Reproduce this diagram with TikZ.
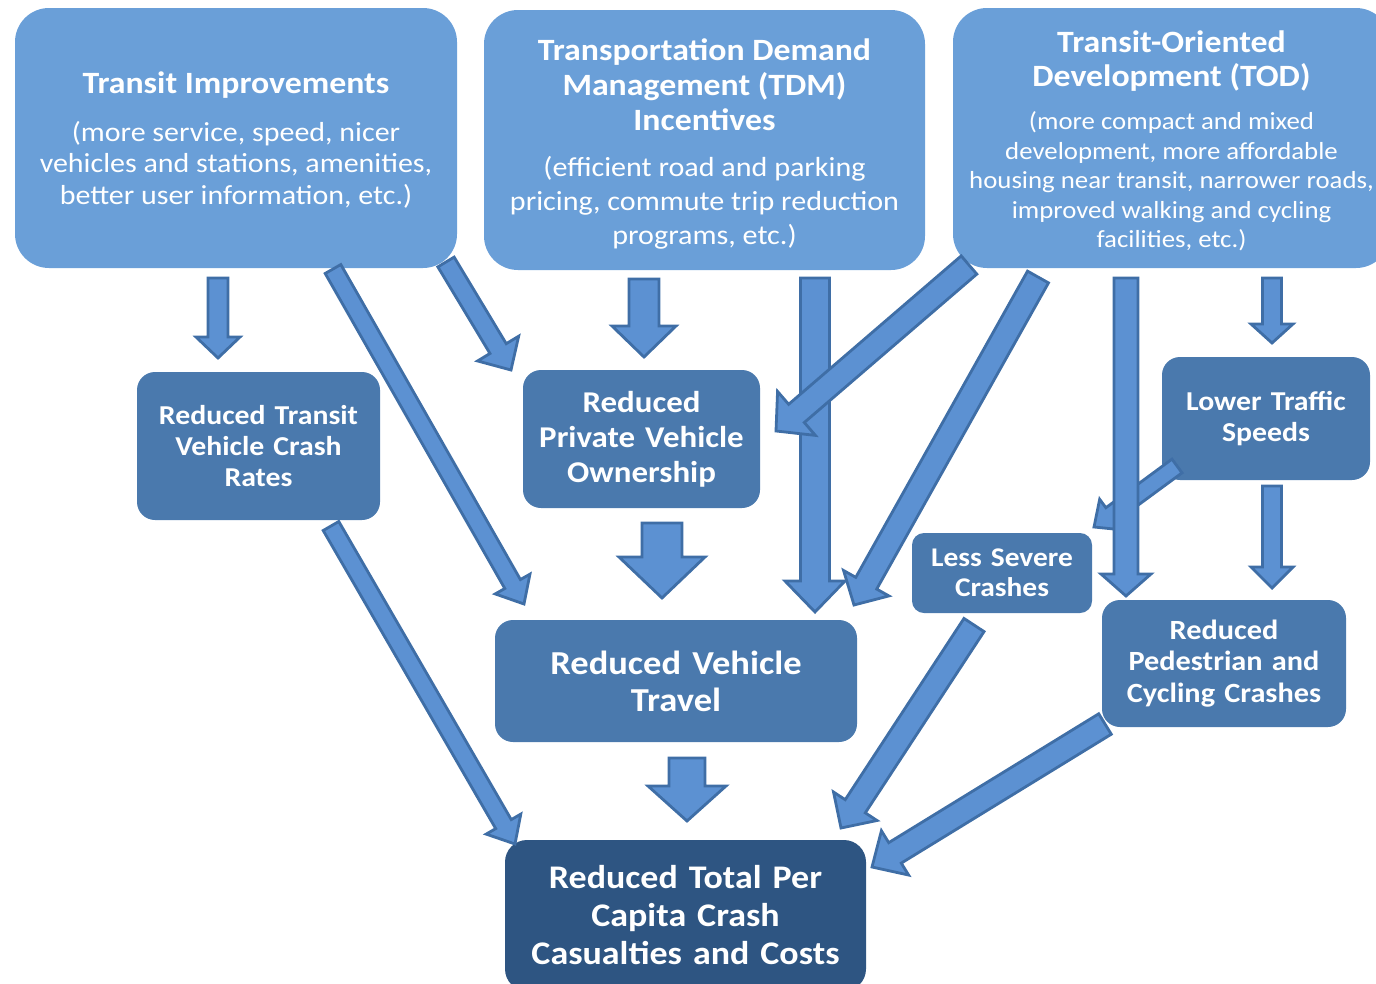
\documentclass[tikz,border=0pt]{standalone}
\usepackage{fontspec}
\setmainfont{Carlito}[FakeStretch=1.09]
\usetikzlibrary{calc}
\setlength{\parindent}{0pt}
\definecolor{topblue}{HTML}{6A9FD8}
\definecolor{midblue}{HTML}{4A79AD}
\definecolor{darkblue}{HTML}{2E5582}
\definecolor{arrowfill}{HTML}{5C91D2}
\definecolor{arrowline}{HTML}{3F6EA6}

\begin{document}
\begin{tikzpicture}[x=1pt, y=-1pt,
    topbox/.style={rectangle, rounded corners=34pt, fill=topblue, text=white, inner sep=0pt},
    midbox/.style={rectangle, rounded corners=18pt, fill=midblue, text=white, inner sep=0pt},
    blk/.style n args={3}{draw=arrowline, fill=arrowfill, line width=2.8pt, line join=miter,
      to path={($(\tikztostart)!#1!90:(\tikztotarget)$)
        -- ($($(\tikztotarget)!#3!(\tikztostart)$)!#1!90:(\tikztotarget)$)
        -- ($($(\tikztotarget)!#3!(\tikztostart)$)!#2!90:(\tikztotarget)$)
        -- (\tikztotarget)
        -- ($($(\tikztotarget)!#3!(\tikztostart)$)!#2!-90:(\tikztotarget)$)
        -- ($($(\tikztotarget)!#3!(\tikztostart)$)!#1!-90:(\tikztotarget)$)
        -- ($(\tikztostart)!#1!-90:(\tikztotarget)$) -- cycle}}]
    \useasboundingbox (0,0) rectangle (1376,983);

    % Strategies
    \node[topbox, minimum width=442, minimum height=260, text width=436pt, font=\fontsize{27.5}{31.5}\selectfont] (ti) at (236,138)
        {\spaceskip=0pt\xspaceskip=0pt\centering
         {\fontsize{31}{35}\selectfont\bfseries Transit Improvements\par}\vspace{16pt}
         {\fontsize{27.5}{31.5}\selectfont (more service, speed, nicer\\vehicles and stations, amenities,\\better user information, etc.)\par}\vspace{-4pt}};
    \node[topbox, minimum width=441, minimum height=260, text width=435pt, font=\fontsize{27.6}{34}\selectfont] (tdm) at (704.5,140)
        {\spaceskip=0pt\xspaceskip=0pt\centering
         {\fontsize{31}{35}\selectfont\bfseries Transportation Demand\\Management (TDM)\\Incentives\par}\vspace{12pt}
         {\fontsize{27.6}{34}\selectfont (efficient road and parking\\pricing, commute trip reduction\\programs, etc.)\par}\vspace{-7pt}};
    \node[topbox, minimum width=437, minimum height=260, text width=431pt, font=\fontsize{24.6}{29.5}\selectfont] (tod) at (1171.5,138)
        {\spaceskip=0pt\xspaceskip=0pt\centering
         {\fontsize{31}{34}\selectfont\bfseries Transit-Oriented\\Development (TOD)\par}\vspace{14pt}
         {\fontsize{24.6}{29.5}\selectfont (more compact and mixed\\development, more affordable\\housing near transit, narrower roads,\\improved walking and cycling\\facilities, etc.)\par}\vspace{-6pt}};

    % Effects
    \node[midbox, minimum width=243, minimum height=148, text width=237pt, font=\fontsize{27.3}{31}\selectfont\bfseries] (rtv) at (258.5,446)
        {\centering Reduced Transit\\Vehicle Crash\\Rates\par};
    \node[midbox, minimum width=237, minimum height=138, text width=233pt, font=\fontsize{30.2}{35}\selectfont\bfseries] (rpo) at (641.5,439)
        {\centering Reduced\\Private Vehicle\\Ownership\par};
    \node[midbox, minimum width=208, minimum height=123, text width=204pt, font=\fontsize{27.3}{31}\selectfont\bfseries] (lts) at (1266,418.5)
        {\centering Lower Traffic\\Speeds\par};
    \node[midbox, rounded corners=12pt, minimum width=180, minimum height=80, text width=178pt, font=\fontsize{27}{30}\selectfont\bfseries] (lsc) at (1002,573)
        {\centering Less Severe\\Crashes\par};
    \node[midbox, minimum width=362, minimum height=122, text width=354pt, font=\fontsize{33.5}{37}\selectfont\bfseries] (rvt) at (676,681)
        {\centering Reduced Vehicle\\Travel\par};
    \node[midbox, minimum width=244, minimum height=127, text width=240pt, font=\fontsize{27.8}{31.5}\selectfont\bfseries] (rpc) at (1224,663.5)
        {\centering Reduced\\Pedestrian and\\Cycling Crashes\par};
    \node[midbox, fill=darkblue, rounded corners=22pt, minimum width=361, minimum height=151, text width=357pt, font=\fontsize{33}{38}\selectfont\bfseries] (tot) at (685.5,915.5)
        {\centering Reduced Total Per\\Capita Crash\\Casualties and Costs\par};

    % Arrow ends
    \coordinate (ti-rtv1) at (218,278);   \coordinate (ti-rtv2) at (218,358);
    \coordinate (ti-rvt1) at (333,269);   \coordinate (ti-rvt2) at (524,604);
    \coordinate (ti-rpo1) at (446,262);   \coordinate (ti-rpo2) at (511,370);
    \coordinate (tdm-rpo1) at (644,279);  \coordinate (tdm-rpo2) at (644,357);
    \coordinate (tdm-rvt1) at (815,278);  \coordinate (tdm-rvt2) at (815,612);
    \coordinate (tod-rpo1) at (969,265);  \coordinate (tod-rpo2) at (776,431);
    \coordinate (tod-rvt1) at (1038,277); \coordinate (tod-rvt2) at (854,605);
    \coordinate (tod-rpc1) at (1126,278); \coordinate (tod-rpc2) at (1126,596);
    \coordinate (tod-lts1) at (1272,278); \coordinate (tod-lts2) at (1272,343);
    \coordinate (lts-lsc1) at (1177,466); \coordinate (lts-lsc2) at (1094,527);
    \coordinate (lts-rpc1) at (1272,486); \coordinate (lts-rpc2) at (1272,588);
    \coordinate (rpo-rvt1) at (662,523);  \coordinate (rpo-rvt2) at (662,598);
    \coordinate (rtv-tot1) at (331,526);  \coordinate (rtv-tot2) at (515,844);
    \coordinate (rvt-tot1) at (687,758);  \coordinate (rvt-tot2) at (687,821);
    \coordinate (lsc-tot1) at (974,625);  \coordinate (lsc-tot2) at (841,828);
    \coordinate (rpc-tot1) at (1105,724); \coordinate (rpc-tot2) at (872,867);

    % Arrows
    \draw[blk={10pt}{22pt}{21pt}] (ti-rtv1) to (ti-rtv2);
    \draw[blk={9pt}{20pt}{23pt}] (ti-rvt1) to (ti-rvt2);
    \draw[blk={9.5pt}{24pt}{25pt}] (ti-rpo1) to (ti-rpo2);
    \draw[blk={15pt}{32pt}{31pt}] (tdm-rpo1) to (tdm-rpo2);
    \draw[blk={14.5pt}{30pt}{31pt}] (tdm-rvt1) to (tdm-rvt2);
    \draw[blk={12pt}{29pt}{27pt}] (tod-rpo1) to (tod-rpo2);
    \draw[blk={12pt}{26pt}{25pt}] (tod-rvt1) to (tod-rvt2);
    \draw[blk={8.5pt}{19pt}{21pt}] (lts-lsc1) to (lts-lsc2);
    \draw[blk={12pt}{25pt}{22pt}] (tod-rpc1) to (tod-rpc2);
    \draw[blk={9.5pt}{21pt}{19pt}] (tod-lts1) to (tod-lts2);
    \draw[blk={9.5pt}{21pt}{21pt}] (lts-rpc1) to (lts-rpc2);
    \draw[blk={20pt}{43pt}{41pt}] (rpo-rvt1) to (rpo-rvt2);
    \draw[blk={9pt}{20pt}{23pt}] (rtv-tot1) to (rtv-tot2);
    \draw[blk={18pt}{39pt}{35pt}] (rvt-tot1) to (rvt-tot2);
    \draw[blk={12pt}{26pt}{26pt}] (lsc-tot1) to (lsc-tot2);
    \draw[blk={12pt}{26pt}{27pt}] (rpc-tot1) to (rpc-tot2);
\end{tikzpicture}
\end{document}
